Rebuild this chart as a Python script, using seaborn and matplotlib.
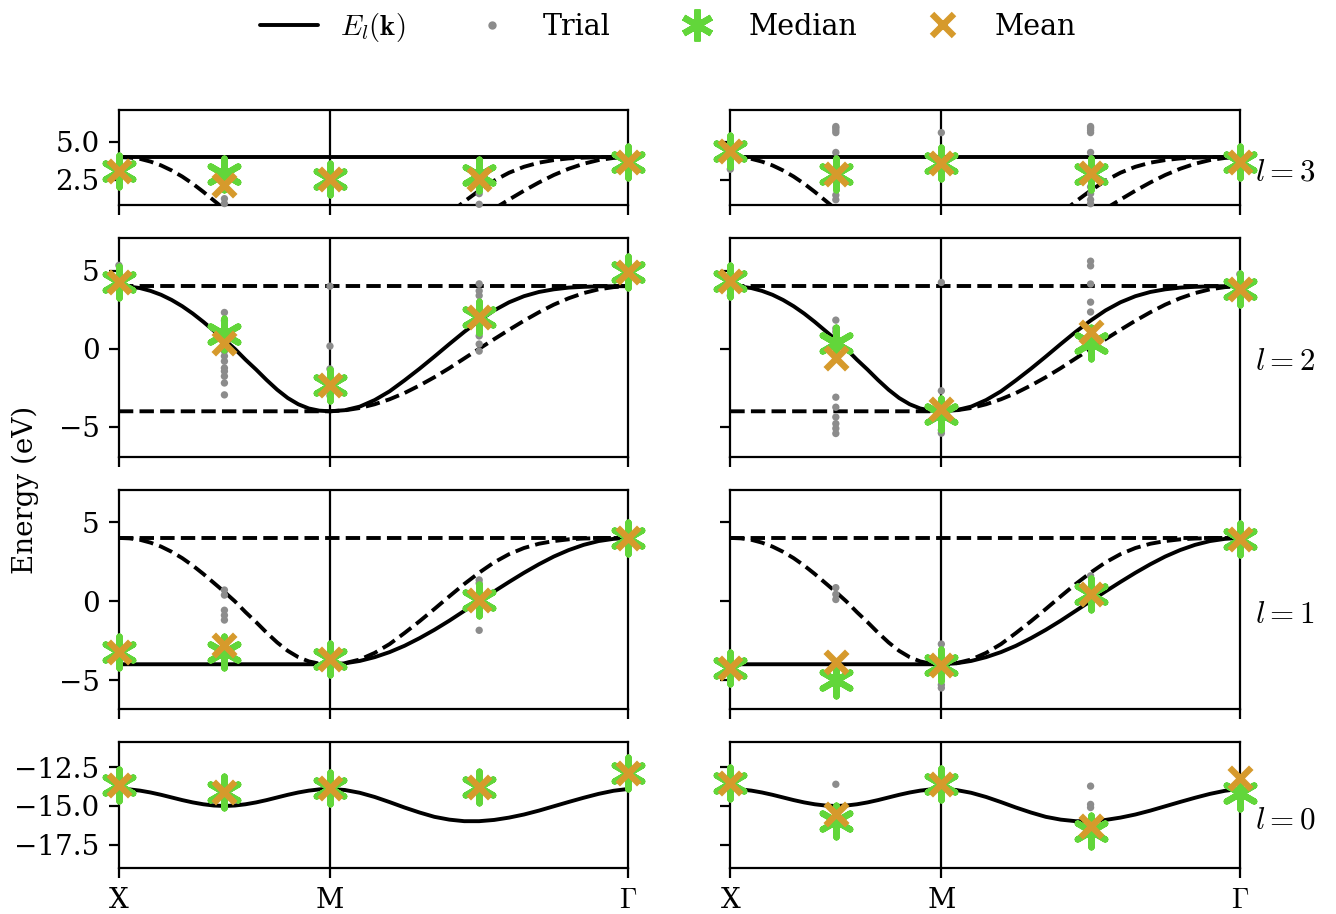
import numpy as np
import pandas as pd
import matplotlib.pyplot as plt
import seaborn as sns
from matplotlib.lines import Line2D

# k-path X -> M -> Gamma (segment lengths in units of pi/a)
len_xm = 1.0
len_mg = np.sqrt(2)
frac = np.linspace(0, 1, 21)  # sampling fraction along each segment
kpt_frac = [0.0, 0.5, 1.0, 0.5, 1.0]  # trial k-points: X, mid XM, M, mid MG, G
kpt_seg = ['xm', 'xm', 'xm', 'mg', 'mg']
klabels = ['X', 'M', r'$\Gamma$']

# band energies (eV) read along X->M and M->Gamma
band0_xm = [-13.90, -13.93, -14.01, -14.13, -14.28, -14.45, -14.62, -14.77, -14.89, -14.97, -15.00,
            -14.97, -14.89, -14.77, -14.62, -14.45, -14.28, -14.13, -14.01, -13.93, -13.90]
band0_mg = [-13.90, -13.97, -14.15, -14.42, -14.75, -15.10, -15.42, -15.70, -15.88, -15.98, -15.98,
            -15.90, -15.75, -15.55, -15.30, -15.02, -14.74, -14.47, -14.22, -14.02, -13.90]
band1_xm = [-4.0] * 21
band1_mg = [-4.00, -3.94, -3.79, -3.55, -3.23, -2.83, -2.35, -1.82, -1.24, -0.62, 0.00,
            0.61, 1.21, 1.79, 2.33, 2.82, 3.23, 3.56, 3.80, 3.94, 4.00]
band2_xm = [4.00, 3.97, 3.88, 3.70, 3.45, 3.12, 2.72, 2.25, 1.72, 1.15, 0.58,
            -0.02, -0.70, -1.33, -2.00, -2.62, -3.15, -3.55, -3.82, -3.96, -4.00]
band2_mg = [-4.00, -3.93, -3.70, -3.28, -2.72, -2.02, -1.28, -0.50, 0.30, 1.08, 1.80,
            2.45, 2.97, 3.36, 3.63, 3.80, 3.91, 3.96, 3.99, 4.00, 4.00]
band3_xm = [4.0] * 21
band3_mg = [4.0] * 21

# trials per k-point (X, mid XM, M, mid MG, G), left and right columns
trials_l3_a = [[3.0, 3.1, 3.05], [1.27, 0.95, 2.9, 2.95, 3.0], [2.57, 2.6, 2.55],
               [1.6, 0.9, 2.83, 2.9, 2.85, 2.9], [3.66, 3.7]]
trials_l3_b = [[4.4, 4.5, 3.2, 4.6], [5.6, 5.75, 5.9, 6.0, 4.3, 2.9, 2.8, 1.5, 1.2, 3.0],
               [5.6, 3.6, 3.5, 3.7], [5.6, 5.75, 5.9, 6.0, 4.3, 2.05, 1.6, 1.2, 0.94, 2.9, 3.0],
               [3.73, 3.8]]
trials_l2_a = [[5.33, 4.26, 4.2, 4.3],
               [2.32, 1.8, 1.2, 0.9, 0.5, -0.15, -0.47, -0.8, -1.23, -1.44, -1.76, -2.19, -2.95],
               [4.0, 0.17, -1.29, -2.0, -2.3, -2.6, -3.0],
               [4.15, 3.7, 3.4, 2.0, 1.9, 0.82, 0.3, -0.15], [4.9, 4.8]]
trials_l2_b = [[4.35, 4.4, 3.4, 4.7],
               [1.83, 1.3, 1.09, 0.5, 0.3, -3.1, -3.74, -4.37, -4.79, -5.1, -5.42],
               [4.24, -2.69, -4.0, -4.2, -5.2, -5.4, -3.9],
               [5.6, 5.3, 4.14, 2.98, 2.35, 0.4, 0.3, 0.2], [4.77, 3.82, 3.7]]
trials_l1_a = [[-3.24, -3.2, -3.3], [0.7, 0.38, -0.58, -0.9, -1.2, -3.2, -3.3, -3.25],
               [-3.67, -3.6, -3.7], [1.34, 1.13, -1.85, 0.06, 0.1], [4.0, 4.05]]
trials_l1_b = [[-4.26, -4.3], [0.85, 0.43, 0.1, -5.0, -5.1, -4.9],
               [-2.72, -5.3, -5.5, -4.04, -4.0], [1.6, 0.43, 0.4], [3.94, 3.9]]
trials_l0_a = [[-13.64], [-14.13], [-13.85], [-13.79], [-12.89]]
trials_l0_b = [[-13.5], [-13.6, -15.97, -16.0], [-13.61],
               [-13.72, -14.9, -15.1, -16.6, -16.5], [-13.2, -14.15]]

# median and mean per k-point
median_l3_a = [3.06, 2.90, 2.57, 2.83, 3.66]
mean_l3_a = [3.06, 2.17, 2.57, 2.54, 3.66]
median_l3_b = [4.40, 2.90, 3.60, 2.90, 3.70]
mean_l3_b = [4.40, 2.90, 3.60, 2.95, 3.70]
median_l2_a = [4.26, 0.92, -2.30, 2.00, 4.88]
mean_l2_a = [4.26, 0.39, -2.30, 2.00, 4.88]
median_l2_b = [4.35, 0.36, -4.16, 0.36, 3.82]
mean_l2_b = [4.35, -0.59, -3.84, 1.09, 3.82]
median_l1_a = [-3.24, -3.24, -3.67, 0.06, 4.00]
mean_l1_a = [-3.24, -2.77, -3.67, 0.06, 4.00]
median_l1_b = [-4.26, -5.00, -4.04, 0.43, 3.94]
mean_l1_b = [-4.26, -3.83, -4.04, 0.43, 3.94]
median_l0_a = [-13.64, -14.13, -13.85, -13.79, -12.89]
mean_l0_a = [-13.64, -14.13, -13.85, -13.79, -12.89]
median_l0_b = [-13.50, -15.97, -13.61, -16.60, -14.15]
mean_l0_b = [-13.50, -15.50, -13.61, -16.29, -13.18]

row_ls = [3, 2, 1, 0]
row_ylim = {3: (0.87, 7.08), 2: (-6.93, 7.1), 1: (-6.86, 7.03), 0: (-19.0, -10.9)}
row_yticks = {3: [2.5, 5.0], 2: [-5, 0, 5], 1: [-5, 0, 5], 0: [-17.5, -15.0, -12.5]}

bands_xm = [band0_xm, band1_xm, band2_xm, band3_xm]
bands_mg = [band0_mg, band1_mg, band2_mg, band3_mg]
trials = {(3, 0): trials_l3_a, (3, 1): trials_l3_b, (2, 0): trials_l2_a, (2, 1): trials_l2_b,
          (1, 0): trials_l1_a, (1, 1): trials_l1_b, (0, 0): trials_l0_a, (0, 1): trials_l0_b}
medians = {(3, 0): median_l3_a, (3, 1): median_l3_b, (2, 0): median_l2_a, (2, 1): median_l2_b,
           (1, 0): median_l1_a, (1, 1): median_l1_b, (0, 0): median_l0_a, (0, 1): median_l0_b}
means = {(3, 0): mean_l3_a, (3, 1): mean_l3_b, (2, 0): mean_l2_a, (2, 1): mean_l2_b,
         (1, 0): mean_l1_a, (1, 1): mean_l1_b, (0, 0): mean_l0_a, (0, 1): mean_l0_b}

# long-format tables for seaborn
k_line = np.concatenate([frac * len_xm, len_xm + frac * len_mg])
band_df = pd.concat([pd.DataFrame({'k': k_line, 'E': np.concatenate([bands_xm[b], bands_mg[b]]), 'band': b})
                     for b in range(4)], ignore_index=True)
kpt_x = [f * len_xm if s == 'xm' else len_xm + f * len_mg for f, s in zip(kpt_frac, kpt_seg)]

green = '#62d63a'
orange = '#d69a2c'
grey = '#8c8c8c'

sns.set_style('ticks')
plt.rcParams.update({
    'font.family': 'serif',
    'mathtext.fontset': 'cm',
    'font.size': 10,
    'axes.edgecolor': 'black',
    'text.color': 'black',
    'xtick.color': 'black',
    'ytick.color': 'black',
    'axes.linewidth': 0.8,
})

fig = plt.figure(figsize=(6.68, 4.57), dpi=200)
gs = fig.add_gridspec(4, 2, height_ratios=[95, 220, 220, 126], left=0.089, right=0.928,
                      top=0.8796, bottom=0.0503, wspace=0.2, hspace=0.2)

for r, l in enumerate(row_ls):
    for c in range(2):
        ax = fig.add_subplot(gs[r, c])
        for b in range(4):
            sub = band_df[band_df['band'] == b]
            sns.lineplot(data=sub, x='k', y='E', sort=False, estimator=None, color='k', lw=1.4,
                         linestyle='-' if b == l else '--', ax=ax, zorder=2)
        ax.axvline(len_xm, color='k', lw=0.8, zorder=1)

        tr = trials[(l, c)]
        tr_df = pd.DataFrame({'k': [kpt_x[i] for i in range(5) for _ in tr[i]],
                              'E': [v for i in range(5) for v in tr[i]]})
        sns.scatterplot(data=tr_df, x='k', y='E', color=grey, s=7, edgecolor='none', ax=ax,
                        zorder=3, clip_on=False)
        pts = pd.DataFrame({'k': kpt_x, 'median': medians[(l, c)], 'mean': means[(l, c)]})
        sns.scatterplot(data=pts, x='k', y='median', marker=(6, 2, 0), color=green, s=130,
                        linewidth=2.3, ax=ax, zorder=4, clip_on=False)
        sns.scatterplot(data=pts, x='k', y='mean', marker='x', color=orange, s=60,
                        linewidth=2.3, ax=ax, zorder=5, clip_on=False)

        ax.set_xlim(0, len_xm + len_mg)
        ax.set_ylim(*row_ylim[l])
        ax.set_yticks(row_yticks[l])
        ax.set_xticks([0, len_xm, len_xm + len_mg])
        ax.set_xticklabels(klabels)
        ax.set_xlabel('')
        ax.set_ylabel('')
        for s in ax.spines.values():
            s.set_visible(True)
        if r < 3:
            ax.tick_params(labelbottom=False)
        if c == 1:
            ax.tick_params(labelleft=False)
            ax.annotate(rf'$l={l}$', xy=(1.03, 0.5), xycoords='axes fraction', xytext=(0, -5.2),
                        textcoords='offset points', va='center', ha='left', fontsize=11.2)

fig.text(0.019, 0.464, 'Energy (eV)', rotation=90, va='center', ha='center')

handles = [
    Line2D([], [], color='k', lw=1.4, label=r'$E_l(\mathbf{k})$'),
    Line2D([], [], ls='', marker='.', color=grey, ms=4, label='Trial'),
    Line2D([], [], ls='', marker=(6, 2, 0), color=green, ms=11.5, mew=2.3, label='Median'),
    Line2D([], [], ls='', marker='x', color=orange, ms=7.8, mew=2.3, label='Mean'),
]
fig.legend(handles=handles, loc='upper center', bbox_to_anchor=(0.5, 1.016), ncol=4,
           frameon=False, fontsize=10.3)

fig.savefig('out.png', dpi=200)
